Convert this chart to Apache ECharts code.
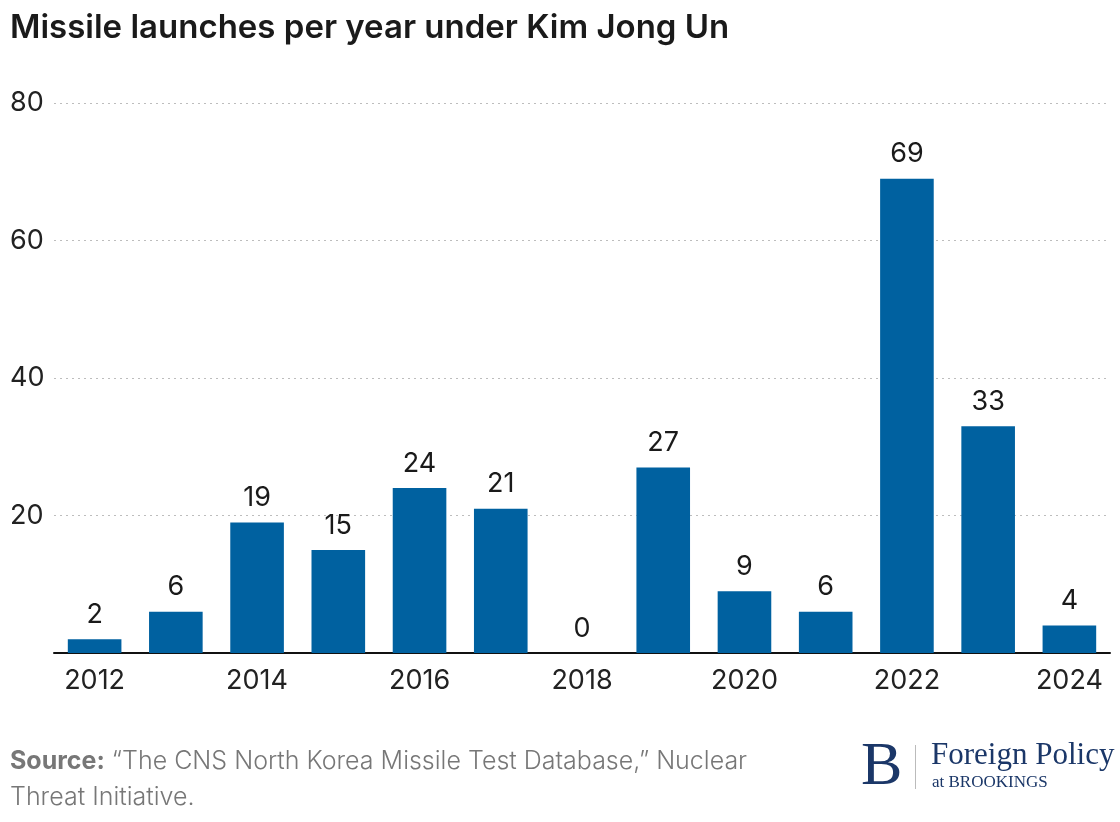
<!DOCTYPE html>
<html><head><meta charset="utf-8">
<script src="https://cdn.jsdelivr.net/npm/echarts@6/dist/echarts.min.js"></script>
<style>html,body{margin:0;padding:0;background:#fff}#c{width:1120px;height:822px}</style>
</head><body><div id="c"></div>
<script>
const years = ['2012','2013','2014','2015','2016','2017','2018','2019','2020','2021','2022','2023','2024'];
const launches = [2, 6, 19, 15, 24, 21, 0, 27, 9, 6, 69, 33, 4];
const yTicks = [0, 20, 40, 60, 80];

const chart = echarts.init(document.getElementById('c'), null, {renderer: 'canvas'});
const F = 'Inter, "Noto Sans", sans-serif';
chart.setOption({
  animation: false,
  backgroundColor: '#fff',
  title: {
    text: 'Missile launches per year under Kim Jong Un',
    left: 10, top: 12, padding: 0,
    textStyle: {fontFamily: F, fontSize: 33, fontWeight: 600, color: '#1a1a1a'}
  },
  grid: {left: 54, right: 10, top: 103, bottom: 169, containLabel: false},
  xAxis: {
    type: 'category', data: years,
    axisLine: {lineStyle: {color: '#111', width: 2}},
    axisTick: {show: false},
    axisLabel: {interval: 1, fontFamily: F, fontSize: 27, color: '#222', margin: 14}
  },
  yAxis: {
    type: 'value', min: yTicks[0], max: yTicks[yTicks.length-1], interval: 20,
    axisLine: {show: false}, axisTick: {show: false},
    axisLabel: {
      fontFamily: F, fontSize: 27, color: '#222', align: 'left', margin: 44,
      formatter: v => v === 0 ? '' : String(v)
    },
    splitLine: {lineStyle: {color: '#bdbdbd', type: [2, 4], width: 1}}
  },
  series: [{
    type: 'bar', data: launches, barWidth: '66%',
    itemStyle: {color: '#0061a0'},
    label: {show: true, position: 'top', distance: 11, fontFamily: F, fontSize: 27, color: '#1a1a1a'}
  }],
  graphic: [
    {type: 'text', left: 10, top: 743, style: {
      text: '{b|Source:} “The CNS North Korea Missile Test Database,” Nuclear\nThreat Initiative.',
      font: '300 25px ' + F, fill: '#777', lineHeight: 36,
      rich: {b: {fontWeight: 'bold', fontFamily: F, fontSize: 25, fill: '#777', lineHeight: 36}}
    }},
    {type: 'text', left: 861, top: 737, style: {text: 'B', font: '62px "Liberation Serif", serif', fill: '#1b3768'}},
    {type: 'rect', shape: {x: 915, y: 745, width: 1, height: 44}, style: {fill: '#bbb'}},
    {type: 'text', left: 931, top: 740, style: {text: 'Foreign Policy', font: '31px "Liberation Serif", serif', fill: '#1b3768'}},
    {type: 'text', left: 932, top: 774, style: {text: 'at BROOKINGS', font: '17px "Liberation Serif", serif', fill: '#1b3768'}}
  ]
});
</script></body></html>
